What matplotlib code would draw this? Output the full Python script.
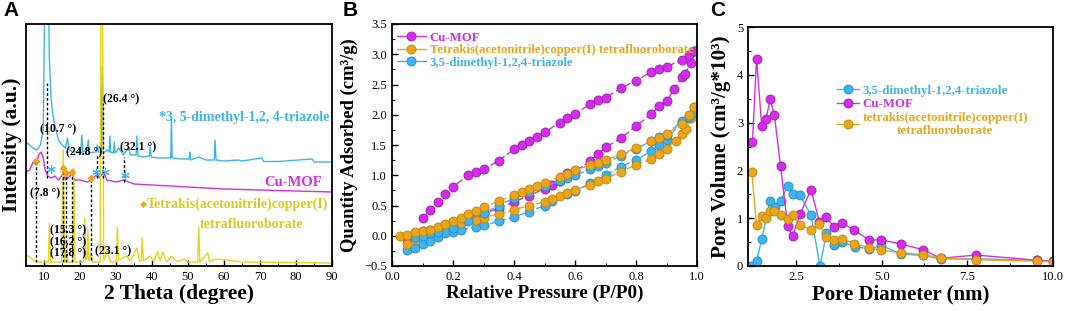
import numpy as np
import matplotlib
matplotlib.use('Agg')
import matplotlib.pyplot as plt
from matplotlib.ticker import MultipleLocator

plt.rcParams['font.family'] = ['Liberation Serif', 'DejaVu Serif']
plt.rcParams['axes.linewidth'] = 1.3

# ---------------- A: XRD (intensity in arbitrary units) ----------------
tri_2t = [5, 6, 7, 8, 9, 9.8, 10.3, 10.6, 10.8, 11.1, 11.5, 12, 12.5, 13, 13.5, 14, 15, 16, 16.5, 17, 18, 19,
          20.2, 20.5, 20.8, 22, 22.3, 22.6, 24, 24.6, 24.8, 25.1, 25.9, 26.2, 26.5, 27.5, 28.1, 28.3, 28.5,
          29.3, 29.5, 29.8, 30.8, 32, 33.5, 34, 35.6, 35.8, 36.1, 37.5, 39.3, 39.5, 39.8, 42, 44, 45.2, 45.4,
          45.6, 48, 50.3, 50.5, 50.7, 53, 55, 57.3, 57.5, 57.8, 60, 64, 65, 70.5, 71, 75, 84.5, 85, 90]
tri_int = [124, 121, 118, 116, 121, 136, 300, 250, 300, 300, 206, 166, 151, 141, 134, 126, 121, 118, 128, 116, 114,
           114, 114, 131, 114, 116, 126, 113, 114, 114, 121, 114, 114, 200, 113, 116, 114, 130, 114,
           113, 124, 113, 118, 111, 118, 111, 111, 130, 110, 109, 110, 119, 109, 108, 108, 108, 148,
           108, 107, 107, 114, 106, 109, 106, 106, 126, 106, 105, 106, 105, 108, 104.5, 104.5, 107, 104, 104]

mof_2t = [5, 6, 7, 7.8, 8.5, 9.2, 9.8, 10.3, 11, 12, 13, 14, 15.3, 16, 17.8, 18.5, 20, 22, 23.1, 24.8, 25.5, 26.4,
          27.5, 30, 32.1, 35, 40, 50, 60, 70, 80, 90]
mof_int = [94, 96, 104, 101, 111, 114, 108, 96, 90, 88, 90, 86, 92, 86, 92, 86, 86, 84, 86, 92, 88, 94,
           86, 84, 86, 82, 81, 79, 77, 76, 75, 74]

cu_2t = [5, 6, 7, 8, 11.2, 11.5, 11.8, 14.9, 15.3, 15.7, 16.3, 16.6, 18.0, 18.3, 18.6, 21.0, 21.3, 21.6, 22.0, 22.2,
         22.5, 23.1, 23.6, 25.6, 25.9, 26.2, 26.6, 27.5, 28.5, 30.1, 30.4, 30.7, 33, 34, 35.8, 36.5, 37.0,
         37.3, 37.6, 39.5, 40.5, 41.5, 42.3, 43, 44, 45.5, 47, 49, 50, 52.7, 53, 53.3, 55.5, 56, 57.5, 60.5, 65, 90]
cu_int = [11, 9, 6, 4, 4, 43, 4, 4, 116, 4, 20, 4, 4, 98, 4, 4, 48, 6, 8, 36,
          5, 12, 4, 4, 400, 300, 5, 15, 4, 4, 39, 6, 10, 5, 18, 5, 5,
          28, 5, 10, 4, 14, 5, 14, 4, 10, 4, 7, 4, 4, 39, 4, 13, 4, 7, 6, 4, 3]

guide_2t = [7.8, 10.7, 15.3, 16.2, 17.8, 23.1, 24.8, 26.4, 32.1]
guide_lo = [4, 88, 4, 4, 4, 6, 88, 88, 84]
guide_hi = [105, 183, 98, 93, 94, 88, 111, 163, 109]
guide_txt = ['(7.8 °)', '(10.7 °)', '(15.3 °)', '(16.2 °)', '(17.8 °)', '(23.1 °)', '(24.8 °)', '(26.4 °)', '(32.1 °)']
guide_tx = [6.1, 8.9, 11.7, 11.7, 11.7, 24.2, 16.1, 26.4, 31.1]
guide_ty = [73, 137, 36, 24, 13, 15, 114, 167, 119]

dia_2t = [7.8, 15.3, 16.2, 17.8, 23.1]
dia_int = [105, 98, 93, 94, 88]
star_2t = [11.9, 24.4, 27.0, 32.5]
star_int = [97, 94, 94, 91]

# ---------------- B: N2 isotherms ----------------
mof_des_p = [0.1, 0.125, 0.15, 0.175, 0.2, 0.25, 0.275, 0.3, 0.35, 0.4, 0.425, 0.45, 0.475, 0.5, 0.55, 0.575,
             0.6, 0.65, 0.675, 0.7, 0.75, 0.8, 0.85, 0.875, 0.9, 0.95, 0.975, 0.99]
mof_des_q = [0.29, 0.43, 0.56, 0.69, 0.81, 1.0, 1.06, 1.1, 1.24, 1.43, 1.5, 1.57, 1.64, 1.71, 1.87, 1.94,
             2.02, 2.17, 2.24, 2.28, 2.44, 2.56, 2.71, 2.75, 2.79, 2.91, 2.98, 3.05]
mof_ads_p = [0.05, 0.075, 0.1, 0.125, 0.15, 0.175, 0.2, 0.225, 0.25, 0.275, 0.3, 0.35, 0.4, 0.45, 0.5, 0.525,
             0.55, 0.575, 0.6, 0.65, 0.675, 0.7, 0.75, 0.8, 0.85, 0.875, 0.9, 0.925, 0.95, 0.96, 0.98, 0.99]
mof_ads_q = [-0.05, 0.05, 0.08, 0.1, 0.13, 0.17, 0.22, 0.27, 0.3, 0.33, 0.37, 0.45, 0.56, 0.66, 0.78, 0.84,
             0.91, 1.03, 1.07, 1.23, 1.35, 1.46, 1.61, 1.81, 2.01, 2.14, 2.23, 2.42, 2.62, 2.68, 2.85, 3.05]

tk_des_p = [0.025, 0.05, 0.075, 0.1, 0.125, 0.15, 0.175, 0.2, 0.225, 0.25, 0.275, 0.3, 0.35, 0.4, 0.425, 0.45,
            0.475, 0.5, 0.55, 0.575, 0.6, 0.65, 0.675, 0.7, 0.75, 0.8, 0.85, 0.875, 0.9, 0.95, 0.975, 0.99]
tk_des_q = [0.0, 0.02, 0.06, 0.08, 0.1, 0.14, 0.19, 0.25, 0.29, 0.36, 0.41, 0.47, 0.57, 0.67, 0.72, 0.77,
            0.82, 0.87, 0.97, 1.02, 1.08, 1.17, 1.21, 1.25, 1.35, 1.45, 1.56, 1.62, 1.68, 1.85, 2.0, 2.12]
tk_ads_p = [0.05, 0.075, 0.1, 0.125, 0.15, 0.2, 0.225, 0.275, 0.3, 0.35, 0.4, 0.45, 0.5, 0.525, 0.55, 0.575,
            0.6, 0.65, 0.675, 0.7, 0.75, 0.8, 0.85, 0.875, 0.9, 0.93, 0.95, 0.965, 0.98, 0.99]
tk_ads_q = [-0.14, -0.05, 0.02, 0.07, 0.1, 0.17, 0.21, 0.26, 0.3, 0.36, 0.43, 0.5, 0.56, 0.61, 0.66, 0.71,
            0.75, 0.84, 0.9, 0.94, 1.06, 1.17, 1.27, 1.35, 1.44, 1.57, 1.69, 1.76, 1.95, 2.12]

tri_des_p = [0.075, 0.1, 0.125, 0.15, 0.2, 0.25, 0.3, 0.35, 0.4, 0.45, 0.5, 0.55, 0.575, 0.6, 0.65, 0.675,
             0.7, 0.75, 0.8, 0.85, 0.875, 0.9, 0.95, 0.975, 0.99]
tri_des_q = [-0.02, 0.0, 0.04, 0.07, 0.12, 0.25, 0.37, 0.5, 0.62, 0.72, 0.82, 0.9, 0.96, 1.0, 1.1, 1.16,
             1.2, 1.32, 1.44, 1.56, 1.63, 1.67, 1.9, 1.97, 2.05]
tri_ads_p = [0.05, 0.075, 0.1, 0.125, 0.15, 0.175, 0.2, 0.225, 0.275, 0.3, 0.35, 0.4, 0.45, 0.5, 0.525, 0.575,
             0.6, 0.65, 0.7, 0.75, 0.8, 0.85, 0.875, 0.9, 0.95, 0.975, 0.99]
tri_ads_q = [-0.23, -0.2, -0.14, -0.08, -0.02, 0.05, 0.07, 0.1, 0.14, 0.17, 0.24, 0.31, 0.4, 0.5, 0.57, 0.69,
             0.74, 0.87, 1.0, 1.14, 1.25, 1.4, 1.5, 1.59, 1.88, 1.95, 2.05]

# ---------------- C: pore size distribution ----------------
mof_d = [1.23, 1.35, 1.5, 1.625, 1.75, 1.87, 2.05, 2.26, 2.4, 2.62, 2.94, 3.18, 3.38, 3.61, 3.83, 4.2, 4.64,
         4.99, 5.56, 6.21, 6.73, 7.74, 9.54, 10.0]
mof_v = [2.59, 4.34, 2.92, 3.08, 3.49, 3.15, 2.09, 0.83, 0.62, 1.09, 1.6, 0.93, 1.02, 0.82, 0.91, 0.75, 0.54,
         0.55, 0.46, 0.34, 0.16, 0.23, 0.12, 0.1]
tri_d = [1.19, 1.35, 1.5, 1.74, 1.89, 2.06, 2.26, 2.4, 2.62, 2.94, 3.2, 3.39, 3.62, 3.83, 4.22, 4.64, 4.99,
         5.56, 6.21, 6.73, 7.74, 9.54, 10.0]
tri_v = [0.0, 0.1, 0.56, 1.37, 1.24, 1.37, 1.68, 1.5, 1.48, 1.06, 0.0, 0.69, 0.44, 0.51, 0.4, 0.36, 0.43,
         0.25, 0.22, 0.15, 0.15, 0.12, 0.1]
tk_d = [1.21, 1.35, 1.5, 1.625, 1.74, 1.87, 2.05, 2.26, 2.4, 2.62, 2.94, 3.18, 3.38, 3.61, 3.83, 4.2, 4.64,
        4.99, 5.56, 6.21, 6.73, 7.74, 9.54, 10.0]
tk_v = [1.97, 0.85, 1.04, 1.01, 1.15, 1.15, 1.06, 0.99, 1.06, 0.86, 0.75, 0.87, 0.61, 0.54, 0.56, 0.47, 0.38,
        0.33, 0.28, 0.24, 0.17, 0.13, 0.1, 0.09]

MAG = '#d22ee6'
CYA = '#3db4f0'
ORA = '#e9a51c'
YEL = '#e3d51a'
BOLD = dict(fontweight='bold')

fig = plt.figure(figsize=(10.65, 3.11), dpi=100)
axA = fig.add_axes([26/1065, 45/311, 306/1065, 242/311])
axB = fig.add_axes([392/1065, 45/311, 305/1065, 242/311])
axC = fig.add_axes([748/1065, 45/311, 305/1065, 239/311])

for ax in (axA, axB, axC):
    ax.tick_params(direction='in', which='both', top=False, right=False, labelsize=9)
    ax.tick_params(which='major', length=4, width=1)
    ax.tick_params(which='minor', length=2, width=0.8)

# A
axA.plot(tri_2t, tri_int, color=CYA, lw=1)
axA.plot(mof_2t, mof_int, color=MAG, lw=1)
axA.plot(cu_2t, cu_int, color=YEL, lw=1)
axA.vlines(guide_2t, guide_lo, guide_hi, colors='k', linestyles=(0, (2, 1.5)), lw=1)
axA.plot(dia_2t, dia_int, 'D', color=ORA, ms=4, mec='none')
axA.plot(star_2t, star_int, ls='none', marker=(6, 2, 0), color=CYA, ms=6, mew=0.8)
for t, x, y in zip(guide_txt, guide_tx, guide_ty):
    axA.text(x, y, t, fontsize=8.5, va='center', ha='left', **BOLD)
axA.text(89.4, 149, '*3, 5-dimethyl-1,2, 4-triazole', color=CYA, fontsize=10, ha='right', va='center', **BOLD)
axA.text(79.2, 84, 'Cu-MOF', color=MAG, fontsize=10.5, ha='center', va='center', **BOLD)
axA.plot([37.4], [62], 'D', color=ORA, ms=3.5, mec='none')
axA.text(38.5, 62, 'Tetrakis(acetonitrile)copper(I)', color='#d8cb1e', fontsize=10, ha='left', va='center', **BOLD)
axA.text(67.8, 42, 'tetrafluoroborate', color='#d8cb1e', fontsize=10, ha='center', va='center', **BOLD)
axA.set_xlim(5, 90)
axA.set_ylim(0, 242)
axA.xaxis.set_major_locator(MultipleLocator(10))
axA.xaxis.set_minor_locator(MultipleLocator(5))
axA.set_yticks([])
axA.set_xlabel('2 Theta (degree)', fontsize=15.5, labelpad=1, **BOLD)
axA.set_ylabel('Intensity (a.u.)', fontsize=15.5, **BOLD)
axA.yaxis.set_label_coords(-0.012, 0.5)

# B
def balls(ax, x, y, c, ec, ls, label=None):
    return ax.plot(x, y, ls=ls, color=c, lw=1, marker='o', ms=6.5, mfc=c, mec=ec, mew=0.6, label=label)

balls(axB, mof_ads_p, mof_ads_q, MAG, '#a01ab8', (0, (5, 2)))
balls(axB, tri_ads_p, tri_ads_q, CYA, '#2288c8', (0, (5, 2)))
balls(axB, tk_ads_p, tk_ads_q, ORA, '#c0850e', (0, (5, 2)))
balls(axB, tri_des_p, tri_des_q, CYA, '#2288c8', (0, (5, 2)))
balls(axB, tk_des_p, tk_des_q, ORA, '#c0850e', (0, (5, 2)))
balls(axB, mof_des_p, mof_des_q, MAG, '#a01ab8', (0, (5, 2)))
hB = [balls(axB, [], [], c, e, '-', l)[0] for c, e, l in
      [(MAG, '#a01ab8', 'Cu-MOF'),
       (ORA, '#c0850e', 'Tetrakis(acetonitrile)copper(I) tetrafluoroborate'),
       (CYA, '#2288c8', '3,5-dimethyl-1,2,4-triazole')]]
legB = axB.legend(handles=hB, loc='upper left', bbox_to_anchor=(-0.01, 1.0), frameon=False,
                  handlelength=2.3, handletextpad=0.3, labelspacing=0.05, borderpad=0.1,
                  prop=dict(weight='bold', size=9.2))
for txt, c in zip(legB.get_texts(), [MAG, ORA, CYA]):
    txt.set_color(c)
axB.set_xlim(0, 1)
axB.set_ylim(-0.5, 3.5)
axB.xaxis.set_major_locator(MultipleLocator(0.2))
axB.xaxis.set_minor_locator(MultipleLocator(0.1))
axB.yaxis.set_major_locator(MultipleLocator(0.5))
axB.yaxis.set_minor_locator(MultipleLocator(0.25))
axB.set_xlabel('Relative Pressure (P/P0)', fontsize=13.8, labelpad=1, **BOLD)
axB.set_ylabel('Quantity Adsorbed (cm³/g)', fontsize=13.4, **BOLD)
axB.yaxis.set_label_coords(-0.111, 0.5)

# C
balls(axC, tri_d, tri_v, CYA, '#2288c8', '-')
balls(axC, mof_d, mof_v, MAG, '#a01ab8', '-')
balls(axC, tk_d, tk_v, ORA, '#c0850e', '-')
hC = [balls(axC, [], [], c, e, '-', l)[0] for c, e, l in
      [(CYA, '#2288c8', '3,5-dimethyl-1,2,4-triazole'),
       (MAG, '#a01ab8', 'Cu-MOF'),
       (ORA, '#c0850e', 'tetrakis(acetonitrile)copper(I)\ntetrafluoroborate')]]
legC = axC.legend(handles=hC, loc='upper left', bbox_to_anchor=(0.265, 0.79), frameon=False,
                  handlelength=1.7, handletextpad=0.3, labelspacing=0.1, borderpad=0.1,
                  prop=dict(weight='bold', size=9.3))
for txt, c in zip(legC.get_texts(), [CYA, MAG, ORA]):
    txt.set_color(c)
    txt.set_multialignment('center')
axC.set_xlim(1.1, 10)
axC.set_ylim(0, 5)
axC.xaxis.set_major_locator(MultipleLocator(2.5))
axC.xaxis.set_minor_locator(MultipleLocator(1.25))
axC.yaxis.set_major_locator(MultipleLocator(1))
axC.yaxis.set_minor_locator(MultipleLocator(0.5))
axC.set_xlabel('Pore Diameter (nm)', fontsize=15, labelpad=1, **BOLD)
axC.set_ylabel('Pore Volume (cm³/g*10³)', fontsize=15.2, **BOLD)
axC.yaxis.set_label_coords(-0.056, 0.5)

for lab, x in [('A', 3), ('B', 343), ('C', 710)]:
    fig.text(x / 1065, 1 - 11 / 311, lab, family='Liberation Sans', fontsize=15, fontweight='bold', va='center')

fig.savefig('out.png', dpi=100)
